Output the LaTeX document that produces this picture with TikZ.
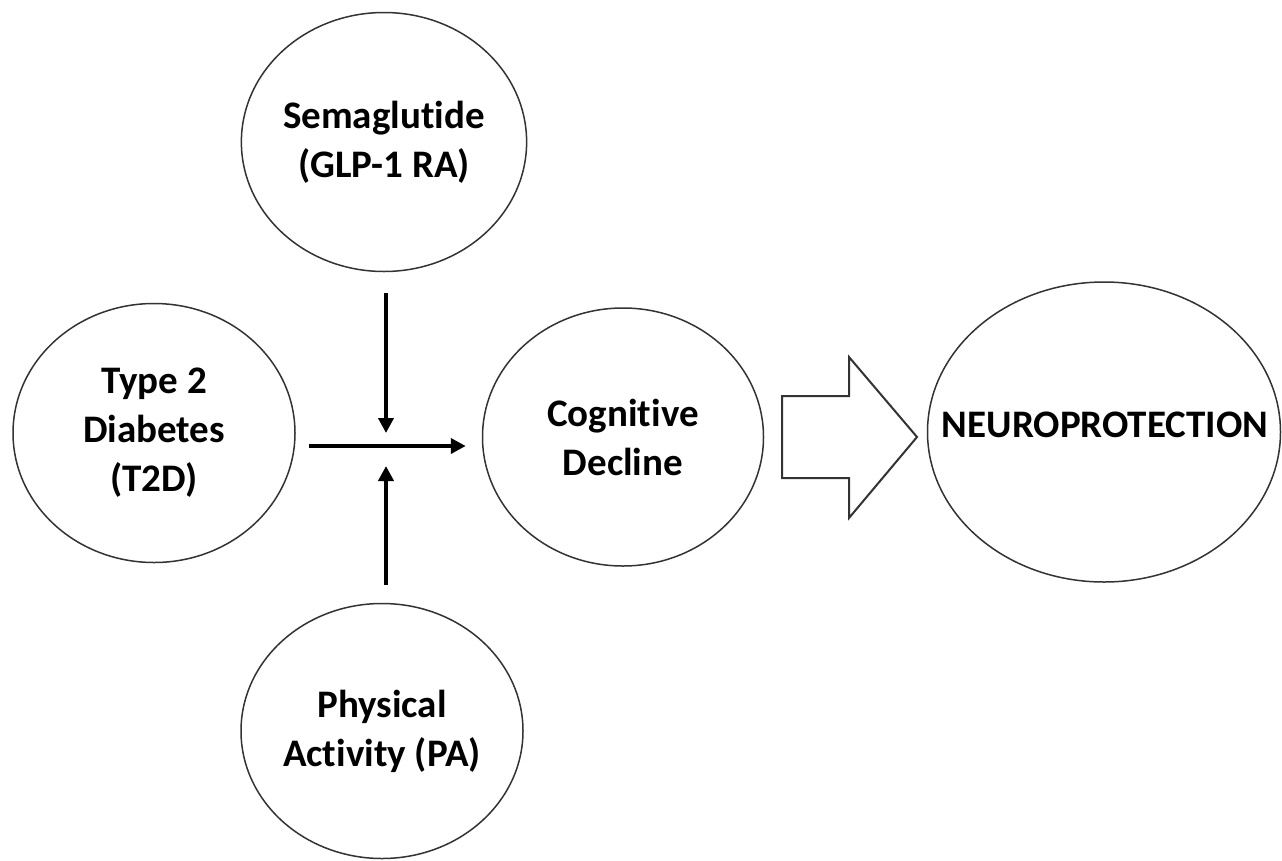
\documentclass[tikz,border=0pt]{standalone}
\usepackage{fontspec}
\setmainfont{Carlito}[RawFeature={-liga}]
\usetikzlibrary{shapes.geometric,arrows.meta}
\begin{document}
\begin{tikzpicture}[x=1pt,y=-1pt,
  bubble/.style={ellipse,draw=black!80,line width=1.5pt,inner sep=0pt,align=center,
    font=\fontsize{39}{49}\selectfont\bfseries,text=black},
  flow/.style={line width=4.5pt,-{Triangle[length=15pt,width=15pt]}}]
\useasboundingbox[fill=white] (0,0) rectangle (1282,860);
\node[bubble,minimum width=282pt,minimum height=259pt] (sema) at (384,142) {Semaglutide\\(GLP-1 RA)};
\node[bubble,minimum width=282pt,minimum height=259pt] (t2d) at (154,433) {Type 2\\Diabetes\\(T2D)};
\node[bubble,minimum width=281pt,minimum height=258pt] (cog) at (623,437) {Cognitive\\Decline};
\node[bubble,minimum width=282pt,minimum height=255pt] (pa) at (382,731) {Physical\\Activity (PA)};
\node[bubble,minimum width=353pt,minimum height=300pt] (neuro) at (1104,432) {};
\node[font=\fontsize{39}{49}\selectfont\bfseries,anchor=base] (neurotext) at (1105,437) {NEUROPROTECTION};
\coordinate (j) at (386,446);
\draw[flow,shorten <=13pt,shorten >=16pt] (t2d.east |- j) -- (cog.west |- j);
\draw[flow,shorten <=21pt,shorten >=13pt] (sema.south -| j) -- (j);
\draw[flow,shorten <=18pt,shorten >=20pt] (pa.north -| j) -- (j);
\draw[draw=black!80,line width=2pt,line join=miter,fill=white] (782,396) -- (849,396) -- (849,357) -- (917,437) -- (849,518) -- (849,478) -- (782,478) -- cycle;
\end{tikzpicture}
\end{document}
